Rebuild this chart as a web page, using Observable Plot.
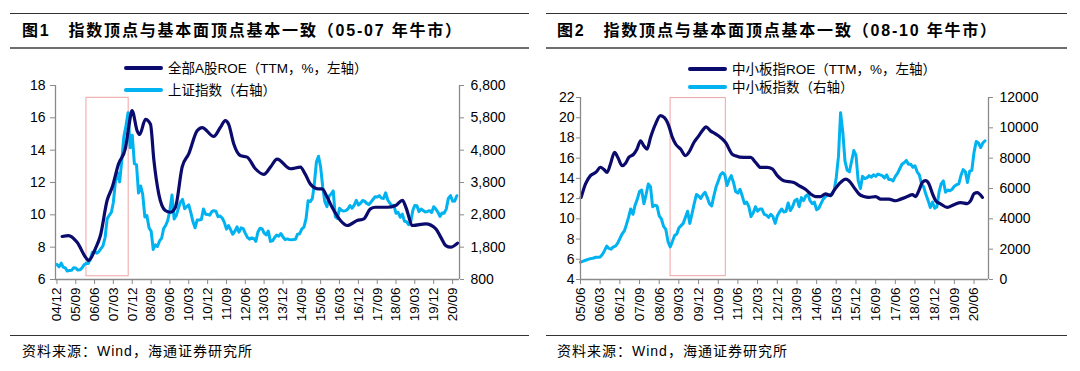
<!DOCTYPE html>
<html><head><meta charset="utf-8">
<script src="https://cdn.jsdelivr.net/npm/d3@7"></script>
<script src="https://cdn.jsdelivr.net/npm/@observablehq/plot@0.6"></script>
<style>
body{margin:0;background:#fff;}
#page{position:relative;width:1080px;height:371px;overflow:hidden;font-family:"Liberation Sans","Noto Sans CJK SC",sans-serif;color:#000;}
.rule{position:absolute;}
.title{position:absolute;font-size:16px;font-weight:bold;letter-spacing:1.8px;white-space:nowrap;line-height:18px;font-family:"Liberation Sans","Noto Sans CJK SC",sans-serif;}
.title .fig{margin-right:18px;}
.legend{position:absolute;font-size:13.5px;white-space:nowrap;line-height:16px;}
.legend .sw{display:inline-block;width:39px;height:4px;vertical-align:middle;margin-right:5px;border-radius:2px;position:relative;top:-1px;}
.src{position:absolute;font-size:14px;letter-spacing:1px;white-space:nowrap;line-height:16px;}
.chart{position:absolute;top:50px;}
.chart svg{overflow:visible;}
</style></head>
<body><div id="page"></div>
<script>
// ---------- Chart 1 data: 全部A股ROE (TTM, %, left) ----------
const roe1Dates = ["2005-02-15","2005-05-20","2005-09-20","2006-02-03","2006-03-07","2006-06-12","2006-08-25","2006-12-01","2007-02-12","2007-05-15","2007-08-22","2007-10-10","2007-11-28","2008-02-10","2008-03-18","2008-06-10","2008-08-22","2008-10-10","2008-12-20","2009-03-25","2009-06-07","2009-08-20","2009-11-25","2010-03-01","2010-07-01","2010-09-12","2011-02-28","2011-06-03","2011-08-15","2011-10-03","2011-12-15","2012-03-20","2012-06-27","2012-10-25","2013-02-25","2013-06-01","2013-09-06","2014-03-18","2014-08-10","2014-10-22","2015-01-03","2015-05-03","2015-06-22","2015-09-03","2015-11-15","2016-03-15","2016-06-22","2016-11-12","2017-02-18","2017-05-25","2017-08-05","2018-01-25","2018-05-28","2018-09-03","2018-10-22","2019-01-28","2019-08-08","2020-01-01","2020-03-12","2020-05-25","2020-08-05","2020-11-12"];
const roe1Values = [8.66,8.72,8.3,7.3,7.18,7.9,8.72,10.9,11.7,13.15,14.1,15.4,16.45,15.2,14.97,15.9,15.6,13.4,11.3,10.27,10.16,10.47,12.95,13.77,15.2,15.4,14.85,15.4,15.83,15.6,14.4,13.67,13.57,12.85,12.5,12.95,13.45,12.85,12.95,12.5,11.9,11.6,11.6,11.1,10.47,9.65,9.34,9.65,9.75,10.37,10.47,10.47,10.58,10.9,10.47,9.34,9.44,9.13,8.62,8.1,8.0,8.25];
// 上证指数 (right), monthly from 2004-12
const sh1Start = "2004-12";
const sh1Values = [1266,
1191,1306,1181,1159,1060,1081,1083,1162,1155,1092,1099,1161,
1258,1299,1298,1440,1641,1672,1612,1658,1752,1837,2099,2675,
2786,2881,3183,3841,4109,3820,4471,5218,5552,5954,4871,5262,
4383,4348,3473,3693,3433,2736,2775,2397,2293,1729,1871,1821,
1991,2082,2373,2477,2633,2959,3412,2668,2779,2996,3195,3277,
2989,3051,3109,2870,2592,2398,2638,2638,2656,2979,2820,2808,
2791,2905,2928,2911,2743,2762,2701,2568,2359,2469,2333,2199,
2293,2428,2263,2397,2373,2225,2103,2048,2086,2069,1980,2269,
2385,2366,2237,2178,2301,1979,1994,2098,2175,2142,2220,2116,
2033,2056,2033,2026,2039,2048,2202,2217,2364,2420,2683,3235,
3210,3310,3748,4442,4612,4277,3664,3206,3053,3383,3445,3539,
2738,2688,3004,2938,2917,2930,2979,3085,3005,3100,3250,3104,
3159,3242,3223,3155,3117,3192,3273,3361,3349,3393,3317,3307,
3481,3259,3169,3082,3095,2847,2876,2725,2821,2603,2588,2494,
2585,2941,3091,3078,2899,2979,2933,2886,2905,2929,2872,3050,
2977,2880,2750,2860,2852,2985,3310,3396,3218,3225,3392];
const xTicks1 = ["2004-12","2005-09","2006-06","2007-03","2007-12","2008-09","2009-06","2010-03","2010-12","2011-09","2012-06","2013-03","2013-12","2014-09","2015-06","2016-03","2016-12","2017-09","2018-06","2019-03","2019-12","2020-09"];
const yLeft1 = [6,8,10,12,14,16,18];
const yRight1 = [800,1800,2800,3800,4800,5800,6800];
const box1Dates = ["2006-02-03","2007-10-10"];
const box1Range = [6.2,17.24];

// ---------- Chart 2 data: 中小板指ROE (TTM, %, left) ----------
const roe2Dates = ["2005-06-10","2005-08-10","2005-10-18","2006-01-01","2006-03-07","2006-04-20","2006-06-07","2006-07-22","2006-09-18","2006-11-03","2007-01-03","2007-02-18","2007-04-03","2007-06-12","2007-07-28","2007-09-15","2007-11-01","2007-12-15","2008-02-01","2008-04-10","2008-06-18","2008-08-12","2008-10-12","2008-12-01","2009-01-15","2009-03-25","2009-06-03","2009-07-18","2009-09-27","2009-12-03","2010-01-21","2010-03-15","2010-05-15","2010-07-25","2010-10-03","2010-12-12","2011-03-12","2011-04-28","2011-08-22","2011-11-25","2012-02-03","2012-04-12","2012-07-12","2012-09-22","2012-12-01","2013-03-01","2013-07-18","2013-09-28","2014-01-01","2014-03-10","2014-05-18","2014-07-25","2014-10-03","2014-12-12","2015-01-28","2015-05-01","2015-07-10","2015-08-25","2015-11-03","2016-01-12","2016-03-20","2016-05-28","2016-09-01","2016-11-10","2017-03-03","2017-06-05","2017-08-15","2017-11-15","2018-01-25","2018-03-10","2018-04-25","2018-06-12","2018-07-28","2018-09-12","2018-11-01","2018-12-15","2019-02-25","2019-05-25","2019-08-25","2019-11-28","2020-02-28","2020-04-15","2020-06-01","2020-07-15","2020-09-25"];
const roe2Values = [12.12,13.45,14.27,14.6,15.1,14.9,14.6,15.4,16.57,16.07,15.25,15.5,16.07,16.4,16.9,17.72,17.2,16.9,18.05,19.37,20.2,20.0,19.2,18.05,17.4,16.9,16.24,16.57,17.55,18.2,18.7,19.1,18.7,18.4,18.05,17.55,16.4,16.24,16.07,16.07,15.58,15.08,15.08,14.93,14.27,13.77,13.6,13.28,12.9,12.46,12.2,12.2,12.46,12.3,12.79,13.6,13.93,13.77,13.11,12.46,12.2,12.12,12.2,11.95,11.95,11.79,11.95,12.2,12.4,12.2,12.79,13.6,13.77,13.44,12.46,11.79,11.46,11.13,11.4,11.6,11.5,11.79,12.5,12.6,12.12];
// 中小板指数 (right), monthly from 2005-06
const sme2Start = "2005-06";
const sme2Values = [1140,1200,1250,1300,1360,1380,1420,
1470,1460,1480,1650,1900,2200,2050,2000,2150,2200,2400,2700,
3000,3200,3600,4100,4650,4300,4900,5300,5800,5900,5000,5600,
6300,6100,4800,4900,4850,4200,4000,3500,3300,2500,2150,2500,
2900,3000,3400,3550,3700,4100,4500,3700,4350,5000,5600,5500,
5350,5600,5750,5400,5000,4850,5500,6100,6500,6900,7050,6900,
6200,6600,6850,6400,5800,5700,5950,5500,5000,5100,4800,4150,
4400,4800,4500,4650,4650,4300,4250,4100,4300,4150,3700,4200,
4450,4650,4450,4500,5050,4550,4800,5200,5300,4800,5400,5200,
5500,5600,5200,5000,5100,4600,4700,5000,5300,5450,5550,5600,
5650,5900,6700,8100,11000,9700,7800,7200,7100,7800,8500,8200,
6500,6000,6800,6650,6700,6850,6750,6900,6800,6950,6900,6850,
6700,6900,6600,6600,6500,6800,7000,7300,7600,7700,7850,7600,
7600,7400,7500,7100,6900,6300,6100,5600,5200,4750,5100,4700,
4800,5800,6300,6500,5750,5900,5850,5950,6150,6250,6300,6850,
7250,7100,6400,7150,7200,8400,9100,9000,8700,9000,9150];
const xTicks2 = ["2005-06","2006-03","2006-12","2007-09","2008-06","2009-03","2009-12","2010-09","2011-06","2012-03","2012-12","2013-09","2014-06","2015-03","2015-12","2016-09","2017-06","2018-03","2018-12","2019-09","2020-06"];
const yLeft2 = [4,6,8,10,12,14,16,18,20,22];
const yRight2 = [0,2000,4000,6000,8000,10000,12000];
const box2Dates = ["2008-11-06","2010-12-15"];
const box2Range = [4.33,21.94];

// ---------- text ----------
const titles = ["指数顶点与基本面顶点基本一致（<b>05-07</b> 年牛市）","指数顶点与基本面顶点基本一致（<b>08-10</b> 年牛市）"];
const figLabels = ["图1","图2"];
const legendRoe = ["全部A股ROE（TTM，%，左轴）","中小板指ROE（TTM，%，左轴）"];
const legendIdx = ["上证指数（右轴）","中小板指数（右轴）"];
const sourceText = "资料来源：Wind，海通证券研究所";

const DARK = "#0b0b6e", LIGHT = "#00b2f0", AX = "#8a8a8a", BOX = "#f0a4a4";
const page = document.getElementById("page");
const monthly = (start, vals) => vals.map((v,i) => ({date: d3.utcMonth.offset(new Date(start+"-01"), i), v}));
const pts = (dates, vals) => dates.map((d,i) => ({date: new Date(d), v: vals[i]}));

function chart(cfg){
  const roe = pts(cfg.roeDates, cfg.roeValues);
  const idx = monthly(cfg.idxStart, cfg.idxValues);
  return Plot.plot({
    width: 540, height: 290,
    marginLeft: cfg.ml, marginRight: cfg.mr, marginTop: cfg.mt, marginBottom: 61,
    style: {background: "none", fontFamily: "Liberation Sans, Arial, sans-serif", fontSize: "13px", color: "#000"},
    x: {type: "utc", domain: cfg.xDomain.map(d => new Date(d))},
    y: {domain: [cfg.yLeft[0], cfg.yLeft[cfg.yLeft.length-1]]},
    marks: [
      Plot.rect([0], {x1: () => new Date(cfg.boxDates[0]), x2: () => new Date(cfg.boxDates[1]), y1: () => cfg.boxRange[0], y2: () => cfg.boxRange[1], fill: "none", stroke: BOX, strokeWidth: 1}),
      Plot.line(idx, {x: "date", y: d => cfg.toLeft(d.v), stroke: LIGHT, strokeWidth: 3, strokeLinejoin: "round"}),
      Plot.line(roe, {x: "date", y: "v", stroke: DARK, strokeWidth: 3.2, curve: "monotone-x"}),
      Plot.ruleX([new Date(cfg.xDomain[0])], {stroke: AX, strokeWidth: 1.3}),
      Plot.ruleX([new Date(cfg.xDomain[1])], {stroke: AX, strokeWidth: 1.3}),
      Plot.ruleY([cfg.yLeft[0]], {stroke: AX, strokeWidth: 1.3}),
      Plot.axisY({ticks: cfg.yLeft, anchor: "left", tickSize: cfg.lts, tickPadding: cfg.ltp, stroke: AX, fill: "#000", fontSize: 14, label: null}),
      Plot.axisY({ticks: cfg.yRight.map(cfg.toLeft), anchor: "right", tickSize: 4, tickPadding: 7, tickFormat: v => cfg.fmt(Math.round(cfg.fromLeft(v))), stroke: AX, fill: "#000", fontSize: 14, label: null}),
      Plot.axisX({ticks: cfg.xTicks.map(t => new Date(t+"-01")), anchor: "bottom", tickRotate: -90, tickSize: 5, tickPadding: 3, tickFormat: d3.utcFormat("%y/%m"), stroke: AX, fill: "#000", fontSize: 13.5, label: null})
    ]
  });
}

const c1 = chart({
  roeDates: roe1Dates, roeValues: roe1Values, idxStart: sh1Start, idxValues: sh1Values,
  xDomain: ["2004-11-10","2020-12-10"], xTicks: xTicks1, yLeft: yLeft1, yRight: yRight1,
  toLeft: r => 6 + (r - 800) / 500, fromLeft: l => 800 + (l - 6) * 500, fmt: d3.format(","),
  boxDates: box1Dates, boxRange: box1Range, ml: 55, mr: 81, mt: 35, lts: 5, ltp: 5
});
const c2 = chart({
  roeDates: roe2Dates, roeValues: roe2Values, idxStart: sme2Start, idxValues: sme2Values,
  xDomain: ["2005-06-01","2020-12-19"], xTicks: xTicks2, yLeft: yLeft2, yRight: yRight2,
  toLeft: r => 4 + r * 0.0015, fromLeft: l => (l - 4) / 0.0015, fmt: v => String(v),
  boxDates: box2Dates, boxRange: box2Range, ml: 40, mr: 92, mt: 47, lts: 4, ltp: 2
});

function add(html, cls, style){ const d = document.createElement("div"); d.className = cls; d.innerHTML = html; Object.assign(d.style, style); page.appendChild(d); return d; }

[[0, c1], [540, c2]].forEach(([off, svg], k) => {
  const w = document.createElement("div"); w.className = "chart"; w.style.left = off + "px"; w.appendChild(svg); page.appendChild(w);
  const lx = k === 0 ? 10 : 546, rx = k === 0 ? 529 : 1067;
  add("", "rule", {left: lx+"px", top: "12.5px", width: (rx-lx)+"px", height: "1.5px", background: "#333"});
  add("", "rule", {left: lx+"px", top: "46.5px", width: (rx-lx)+"px", height: "2px", background: "#6e6e6e"});
  add("", "rule", {left: lx+"px", top: "334.5px", width: (rx-lx)+"px", height: "1.5px", background: "#333"});
  add(`<span class="fig">${figLabels[k]}</span>${titles[k]}`, "title", {left: (k===0?22:557)+"px", top: "22px"});
  add(sourceText, "src", {left: (k===0?22:557)+"px", top: "343px"});
  const sx = k === 0 ? 124 : 688, r1 = k === 0 ? 68.5 : 69.5, r2 = k === 0 ? 90.5 : 87.5;
  add(`<span class="sw" style="background:${DARK}"></span>${legendRoe[k]}`, "legend", {left: sx+"px", top: (r1-8)+"px"});
  add(`<span class="sw" style="background:${LIGHT}"></span>${legendIdx[k]}`, "legend", {left: sx+"px", top: (r2-8)+"px"});
});
</script></body></html>
